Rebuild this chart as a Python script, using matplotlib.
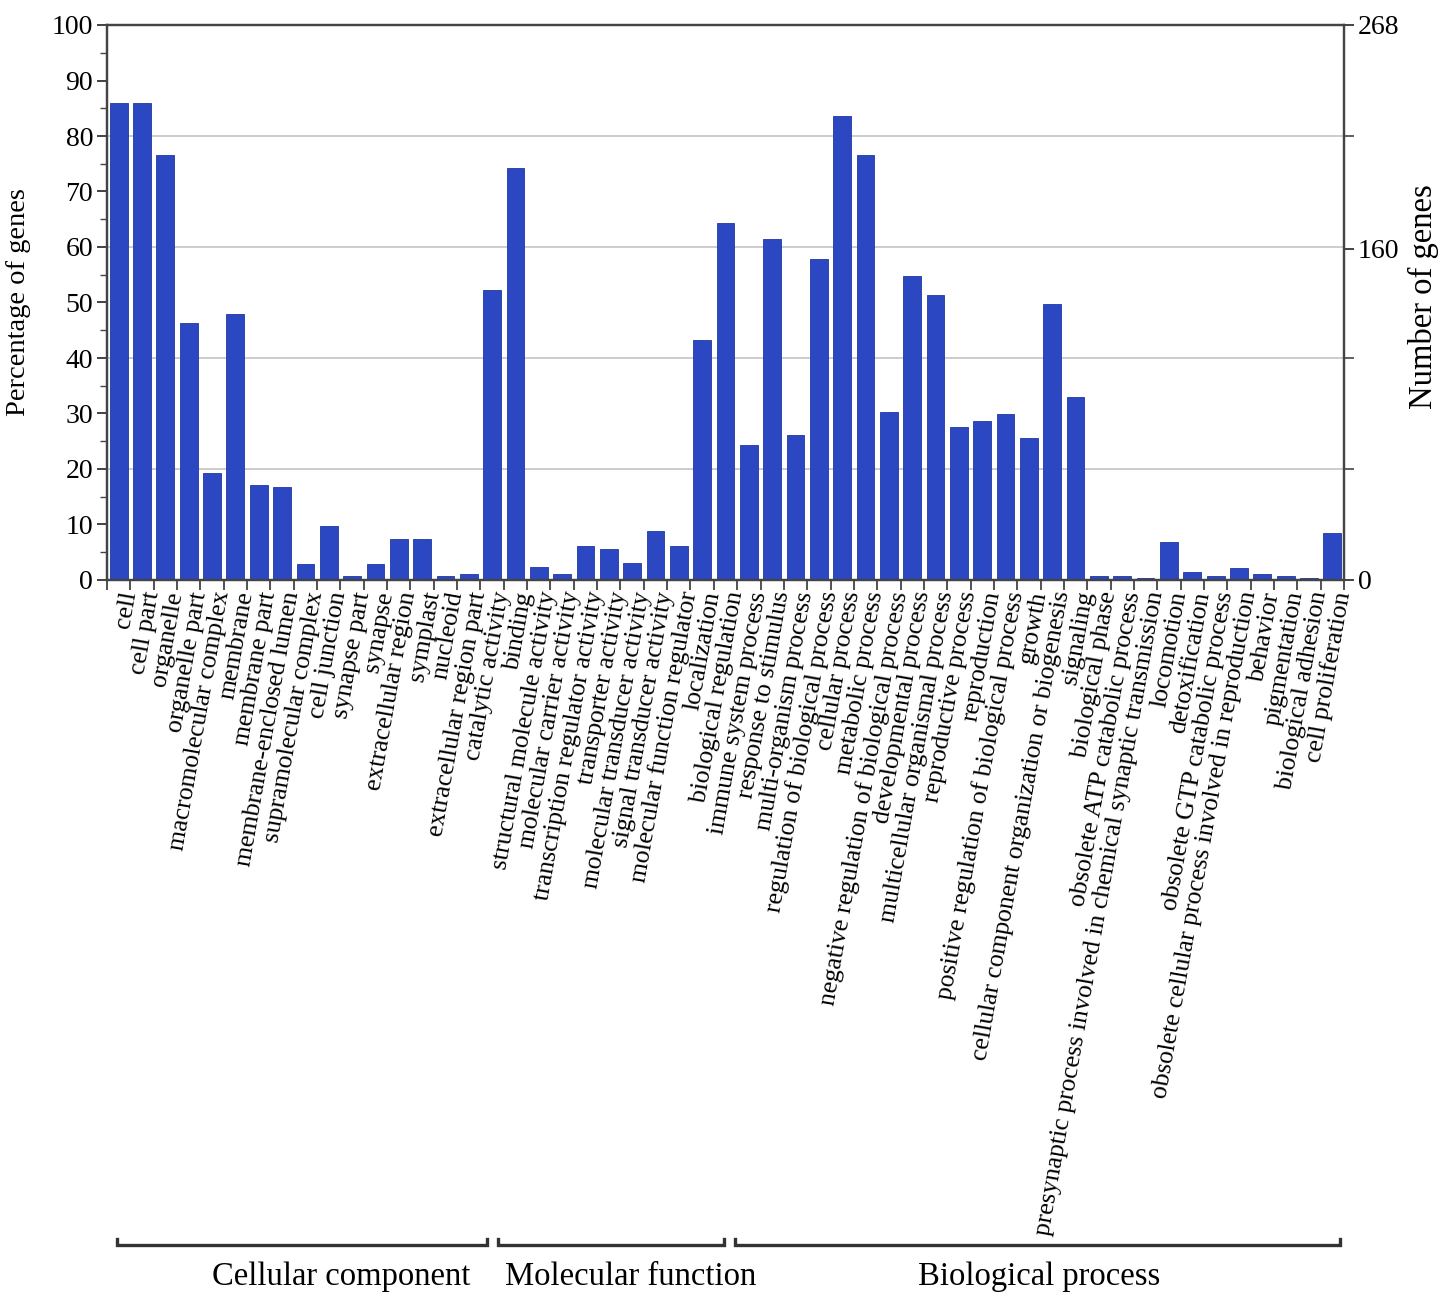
import matplotlib
matplotlib.use("Agg")
import matplotlib.pyplot as plt
from matplotlib.ticker import MultipleLocator, FixedLocator
import numpy as np

plt.rcParams['font.family'] = ['Liberation Serif', 'DejaVu Serif']

categories = [
    "cell", "cell part", "organelle", "organelle part", "macromolecular complex",
    "membrane", "membrane part", "membrane-enclosed lumen", "supramolecular complex",
    "cell junction", "synapse part", "synapse", "extracellular region", "symplast",
    "nucleoid", "extracellular region part",
    "catalytic activity", "binding", "structural molecule activity",
    "molecular carrier activity", "transcription regulator activity",
    "transporter activity", "molecular transducer activity",
    "signal transducer activity", "molecular function regulator",
    "localization", "biological regulation", "immune system process",
    "response to stimulus", "multi-organism process",
    "regulation of biological process", "cellular process", "metabolic process",
    "negative regulation of biological process", "developmental process",
    "multicellular organismal process", "reproductive process", "reproduction",
    "positive regulation of biological process", "growth",
    "cellular component organization or biogenesis", "signaling",
    "biological phase", "obsolete ATP catabolic process",
    "presynaptic process involved in chemical synaptic transmission",
    "locomotion", "detoxification", "obsolete GTP catabolic process",
    "obsolete cellular process involved in reproduction", "behavior",
    "pigmentation", "biological adhesion", "cell proliferation",
]

percentages = [
    86.0, 86.0, 76.6, 46.3, 19.2, 48.0, 17.1, 16.8, 2.8, 9.7, 0.8, 2.8, 7.4, 7.4,
    0.8, 1.0,
    52.3, 74.2, 2.3, 1.0, 6.1, 5.5, 3.1, 8.8, 6.1,
    43.3, 64.4, 24.3, 61.4, 26.2, 57.8, 83.6, 76.6, 30.2, 54.8, 51.4, 27.5, 28.6,
    29.9, 25.6, 49.7, 33.0, 0.8, 0.8, 0.3, 6.8, 1.4, 0.8, 2.1, 1.1, 0.8, 0.3, 8.5,
]

groups = ["Cellular component", "Molecular function", "Biological process"]

right_max = 268
right_labels = ["0", "160", "268"]

# layout (bracket spans / text centres in bar-index units)
bracket_spans = [(-0.07, 15.78), (16.25, 25.93), (26.40, 52.33)]
group_text_x = [9.53, 21.95, 39.43]

W, H = 1452, 1302
fig = plt.figure(figsize=(W / 100, H / 100), dpi=100)
left, right, top, bottom = 107 / W, 1344 / W, 1 - 25 / H, 1 - 580 / H
ax = fig.add_axes([left, bottom, right - left, top - bottom])

x = np.arange(len(categories))
bar_color = "#2B47C1"
ax.bar(x, percentages, width=0.76, color=bar_color, edgecolor="#1f37a0",
       linewidth=0.6, zorder=3)

ax.set_xlim(-0.5, len(categories) - 0.5)
ax.set_ylim(0, 100)
ax.yaxis.set_major_locator(MultipleLocator(10))
ax.yaxis.set_minor_locator(MultipleLocator(5))
for gy in (20, 40, 60, 80):
    ax.axhline(gy, color="#c8c8c8", linewidth=1.3, zorder=0)
ax.tick_params(axis="y", which="major", length=7, width=1.2, labelsize=20,
               colors="#222222", pad=3)
ax.tick_params(axis="y", which="minor", length=5, width=1.0, colors="#444444")
for lbl in ax.get_yticklabels():
    lbl.set_color("black")

ax.set_xticks(x)
ax.set_xticklabels(categories, rotation=80, ha="right", va="top",
                   rotation_mode="anchor", fontsize=18.5)
ax.tick_params(axis="x", which="major", length=0, pad=7)
ax.set_xticks(np.arange(-0.5, len(categories), 1.0), minor=True)
ax.tick_params(axis="x", which="minor", length=7, width=1.2, colors="#333333")

for s in ax.spines.values():
    s.set_color("#444444")
    s.set_linewidth(1.6)

ax.set_ylabel("Percentage of genes", fontsize=20.5, labelpad=15)

ax2 = ax.twinx()
ax2.set_ylim(0, right_max)
ax2.yaxis.set_major_locator(FixedLocator([float(v) for v in right_labels]))
ax2.set_yticklabels(right_labels)
ax2.yaxis.set_minor_locator(FixedLocator([right_max * f for f in (0.2, 0.4, 0.8)]))
ax2.tick_params(axis="y", which="major", length=7, width=1.2, labelsize=20,
                colors="#222222", pad=3)
ax2.tick_params(axis="y", which="minor", length=7, width=1.2, colors="#444444")
for lbl in ax2.get_yticklabels():
    lbl.set_color("black")
for s in ax2.spines.values():
    s.set_color("#444444")
    s.set_linewidth(1.6)
ax2.set_ylabel("Number of genes", fontsize=23.5, labelpad=6)
ax2.yaxis.set_label_coords(1.052, 0.51)

# group brackets below the labels
trans = matplotlib.transforms.blended_transform_factory(ax.transData, fig.transFigure)
y_br = 1 - 1245 / H
tick_h = 6 / H
for name, (x0, x1), xt in zip(groups, bracket_spans, group_text_x):
    ax.plot([x0, x0, x1, x1], [y_br + tick_h, y_br, y_br, y_br + tick_h],
            transform=trans, color="#333333", linewidth=2.4, clip_on=False,
            solid_joinstyle="miter")
    ax.text(xt, 1 - 1277 / H, name, transform=trans, fontsize=23.5,
            ha="center", va="center", clip_on=False)

fig.savefig("out.png", dpi=100)
